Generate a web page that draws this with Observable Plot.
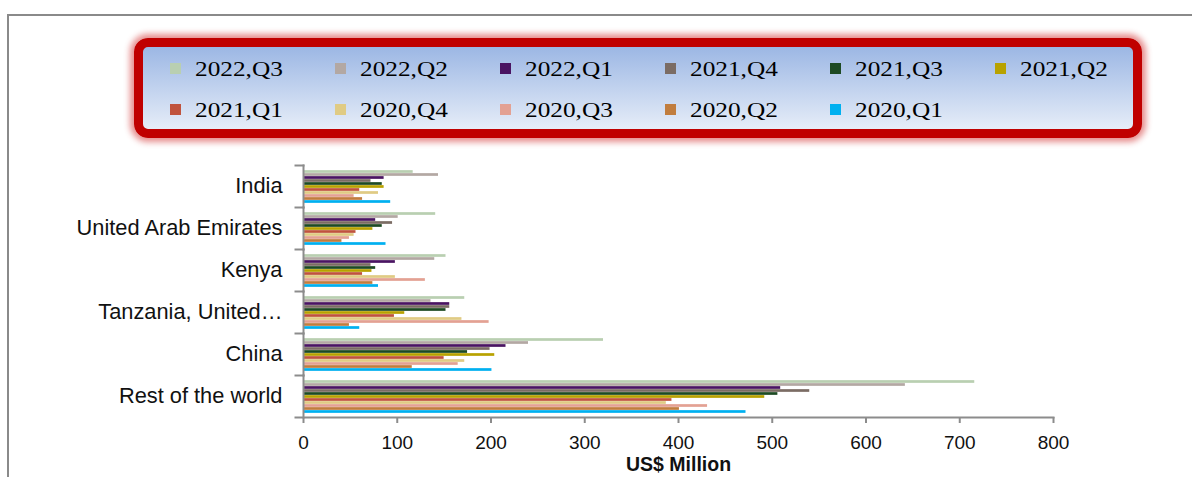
<!DOCTYPE html>
<html>
<head>
<meta charset="utf-8">
<script src="https://cdn.jsdelivr.net/npm/d3@7"></script>
<script src="https://cdn.jsdelivr.net/npm/@observablehq/plot@0.6"></script>
<style>
  html, body { margin: 0; padding: 0; background: #fff; }
  #wrap { position: relative; width: 1192px; height: 477px; overflow: hidden; }
  #outer { position: absolute; left: 7px; top: 14px; width: 1300px; height: 600px;
           border-left: 2px solid #8a8a8a; border-top: 2px solid #8a8a8a; }
  #legend { position: absolute; left: 134px; top: 38px; width: 1008px; height: 100px;
            box-sizing: border-box; border: 9px solid #c00000; border-radius: 14px;
            box-shadow: 0 0 6px 4px rgba(200,0,0,0.45);
            background: linear-gradient(#9cb7e4, #e6edf8);
            display: grid; grid-template-columns: repeat(6, 165px); grid-auto-rows: 41px;
            padding: 1px 0 0 27px; }
  .item { display: flex; align-items: center; font-family: "Liberation Serif", "Times New Roman", serif;
          font-size: 22px; color: #000; white-space: nowrap; }
  .sw { width: 11px; height: 11px; margin-right: 14px; flex: none; }
  .lab { display: inline-block; transform: scaleX(1.15); transform-origin: left center; }
  #chart { position: absolute; left: 0; top: 140px; }
</style>
</head>
<body>
<div id="wrap">
  <div id="outer"></div>
  <div id="legend"></div>
  <div id="chart"></div>
</div>
<script>
const countries = ["India", "United Arab Emirates", "Kenya", "Tanzania, United Republic of", "China", "Rest of the world"];
const quarters = ["2022,Q3", "2022,Q2", "2022,Q1", "2021,Q4", "2021,Q3", "2021,Q2", "2021,Q1", "2020,Q4", "2020,Q3", "2020,Q2", "2020,Q1"];
const colors = ["#b9cfb1", "#b3a8a3", "#4a1462", "#7b6c64", "#1d4a23", "#b8a200", "#c0533d", "#e0cb84", "#e3a193", "#c17d3e", "#00b0f0"];

const india    = [117, 144, 86, 72, 84, 86, 60, 80, 54, 63, 93];
const uae      = [141, 101, 77, 95, 84, 74, 56, 54, 49, 41, 88];
const kenya    = [152, 140, 98, 72, 77, 73, 63, 98, 130, 74, 80];
const tanzania = [172, 136, 156, 156, 152, 108, 97, 169, 198, 49, 60];
const china    = [320, 240, 216, 199, 175, 204, 150, 172, 165, 116, 201];
const rest     = [716, 642, 509, 540, 506, 492, 393, 387, 431, 401, 472];

const xTicks = [0, 100, 200, 300, 400, 500, 600, 700, 800];
const shortLabels = {"Tanzania, United Republic of": "Tanzania, United\u2026"};

const series = [india, uae, kenya, tanzania, china, rest];
const data = [];
countries.forEach((c, ci) => {
  quarters.forEach((q, qi) => {
    data.push({country: c, quarter: q, value: series[ci][qi]});
  });
});

// legend
const legend = document.getElementById("legend");
quarters.forEach((q, i) => {
  const it = document.createElement("div");
  it.className = "item";
  it.innerHTML = `<span class="sw" style="background:${colors[i]}"></span><span class="lab">${q}</span>`;
  legend.appendChild(it);
});

const axisGray = "#8c8c8c";
const plotW = 1192 - 303 - 139;

const chart = Plot.plot({
  width: 1192,
  height: 337,
  marginTop: 22,
  marginBottom: 58,
  marginLeft: 303,
  marginRight: 139,
  style: {fontFamily: "'Liberation Sans', Arial, sans-serif", background: "transparent", color: "#111"},
  x: {domain: [0, 800]},
  y: {domain: quarters, paddingInner: 0.04, paddingOuter: 0.7, axis: null},
  fy: {domain: countries, padding: 0, axis: null},
  color: {domain: quarters, range: colors},
  marks: [
    Plot.barX(data, {x: "value", y: "quarter", fy: "country", fill: "quarter", insetTop: 0.15, insetBottom: 0.15}),
    Plot.frame({anchor: "left", stroke: axisGray, strokeWidth: 2}),
    Plot.frame({anchor: "top", insetLeft: -8, insetRight: plotW, stroke: axisGray, strokeWidth: 2}),
    Plot.frame({anchor: "bottom", facetAnchor: "bottom", insetLeft: -8, stroke: axisGray, strokeWidth: 2}),
    Plot.axisFy({anchor: "left", tickSize: 0, tickPadding: 21, label: null, fontSize: 21.8,
                 tickFormat: (d) => shortLabels[d] || d}),
    Plot.axisX({anchor: "bottom", ticks: xTicks, tickSize: 6, tickPadding: 12, fontSize: 19,
                stroke: axisGray, strokeWidth: 2, label: null}),
    Plot.text(["US$ Million"], {frameAnchor: "bottom", facetAnchor: "bottom", dy: 47, fontSize: 19.5,
                                fontWeight: "bold", lineAnchor: "middle", fill: "#111"})
  ]
});
document.getElementById("chart").appendChild(chart);
</script>
</body>
</html>
